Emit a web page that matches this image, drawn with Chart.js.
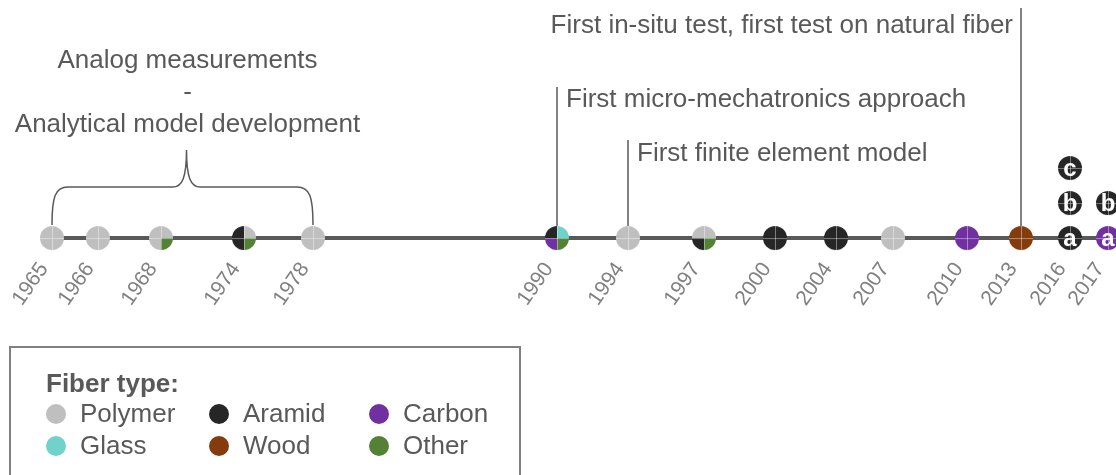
<!DOCTYPE html>
<html>
<head>
<meta charset="utf-8">
<script src="https://cdn.jsdelivr.net/npm/chart.js@4"></script>
<style>
body { margin: 0; background: #fff; }
#wrap { width: 1116px; height: 475px; }
</style>
</head>
<body>
<div id="wrap"><canvas id="timeline"></canvas></div>
<script>
// Studies along the timeline (position is the place on the drawn axis, not linear in years)
const years = ['1965', '1966', '1968', '1974', '1978', '1990', '1994', '1997', '2000', '2004', '2007', '2010', '2013', '2016', '2017'];
const timelinePos = [52, 98, 161, 244, 313, 557, 628, 704, 775, 836, 893, 967, 1021, 1070, 1108];

// Fiber type of each quarter of the marker
const topLeft     = ['Polymer', 'Polymer', 'Polymer', 'Aramid', 'Polymer', 'Aramid', 'Polymer', 'Polymer', 'Aramid', 'Aramid', 'Polymer', 'Carbon', 'Wood', 'Aramid', 'Carbon'];
const topRight    = ['Polymer', 'Polymer', 'Polymer', 'Polymer', 'Polymer', 'Glass', 'Polymer', 'Polymer', 'Aramid', 'Aramid', 'Polymer', 'Carbon', 'Wood', 'Aramid', 'Carbon'];
const bottomLeft  = ['Polymer', 'Polymer', 'Polymer', 'Aramid', 'Polymer', 'Carbon', 'Polymer', 'Aramid', 'Aramid', 'Aramid', 'Polymer', 'Carbon', 'Wood', 'Aramid', 'Carbon'];
const bottomRight = ['Polymer', 'Polymer', 'Other', 'Other', 'Polymer', 'Other', 'Polymer', 'Other', 'Aramid', 'Aramid', 'Polymer', 'Carbon', 'Wood', 'Aramid', 'Carbon'];
const markerLetter = ['', '', '', '', '', '', '', '', '', '', '', '', '', 'a', 'a'];

// Extra studies stacked above the same year
const extraYear = ['2016', '2016', '2017'];
const extraLevel = [1, 2, 1];
const extraFiber = ['Aramid', 'Aramid', 'Aramid'];
const extraLetter = ['b', 'c', 'b'];

const milestoneYear = ['1990', '1994', '2013'];
const milestoneText = ['First micro-mechatronics approach', 'First finite element model', 'First in-situ test, first test on natural fiber'];

const braceFrom = '1965';
const braceTo = '1978';
const braceText = ['Analog measurements', '-', 'Analytical model development'];

const fiberNames = ['Polymer', 'Aramid', 'Carbon', 'Glass', 'Wood', 'Other'];
const fiberColors = ['#bfbfbf', '#262626', '#7030a0', '#70d2ca', '#843c0c', '#538135'];

const FONT = '"Liberation Sans", Arial, sans-serif';
const TEXT_COLOR = '#595959';

function fiberColor(name) {
    return fiberColors[fiberNames.indexOf(name)];
}

function makeMarker(tl, tr, bl, br, letter) {
    const c = document.createElement('canvas');
    c.width = 26;
    c.height = 26;
    const ctx = c.getContext('2d');
    const r = 12, cx = 13, cy = 13;
    const parts = [[tl, Math.PI, 1.5 * Math.PI], [tr, 1.5 * Math.PI, 2 * Math.PI], [br, 0, 0.5 * Math.PI], [bl, 0.5 * Math.PI, Math.PI]];
    parts.forEach(p => {
        ctx.beginPath();
        ctx.moveTo(cx, cy);
        ctx.arc(cx, cy, r, p[1], p[2]);
        ctx.closePath();
        ctx.fillStyle = fiberColor(p[0]);
        ctx.fill();
    });
    ctx.strokeStyle = 'rgba(255,255,255,0.4)';
    ctx.lineWidth = 1;
    ctx.beginPath();
    ctx.moveTo(cx - r, cy + 0.5);
    ctx.lineTo(cx + r, cy + 0.5);
    ctx.moveTo(cx + 0.5, cy - r);
    ctx.lineTo(cx + 0.5, cy + r);
    ctx.stroke();
    if (letter) {
        ctx.fillStyle = '#fff';
        ctx.font = 'bold 24px ' + FONT;
        ctx.textAlign = 'center';
        ctx.textBaseline = 'middle';
        ctx.fillText(letter, cx, cy + 1);
    }
    return c;
}

function posOf(year) {
    return timelinePos[years.indexOf(year)];
}

const mainMarkers = years.map((y, i) => makeMarker(topLeft[i], topRight[i], bottomLeft[i], bottomRight[i], markerLetter[i]));
const extraMarkers = extraYear.map((y, i) => makeMarker(extraFiber[i], extraFiber[i], extraFiber[i], extraFiber[i], extraLetter[i]));

const decorPlugin = {
    id: 'timelineDecor',
    beforeDatasetsDraw(chart) {
        const ctx = chart.ctx;
        const xs = chart.scales.x, ys = chart.scales.y;
        const y0 = ys.getPixelForValue(0);
        ctx.save();

        // milestone lines + captions
        const lineTop = [151, 98, 230];
        const textUp = [131, 77, 205];
        ctx.strokeStyle = TEXT_COLOR;
        ctx.lineWidth = 1.5;
        ctx.fillStyle = TEXT_COLOR;
        ctx.font = '26px ' + FONT;
        ctx.textBaseline = 'alphabetic';
        milestoneYear.forEach((yr, i) => {
            const px = xs.getPixelForValue(posOf(yr));
            ctx.beginPath();
            ctx.moveTo(px, y0 - 12);
            ctx.lineTo(px, y0 - lineTop[i]);
            ctx.stroke();
            if (i === 2) {
                ctx.textAlign = 'right';
                ctx.fillText(milestoneText[i], px - 8, y0 - textUp[i]);
            } else {
                ctx.textAlign = 'left';
                ctx.fillText(milestoneText[i], px + 9, y0 - textUp[i]);
            }
        });

        // curly brace over the early years
        const x1 = xs.getPixelForValue(posOf(braceFrom));
        const x2 = xs.getPixelForValue(posOf(braceTo));
        const xm = (x1 + x2) / 2 + 4;
        const yb = y0 - 13, yh = y0 - 51, yt = y0 - 88;
        ctx.beginPath();
        ctx.moveTo(x1, yb);
        ctx.bezierCurveTo(x1, yh + 10, x1 + 3, yh, x1 + 16, yh);
        ctx.lineTo(xm - 14, yh);
        ctx.bezierCurveTo(xm - 4, yh, xm, yh - 10, xm, yt);
        ctx.bezierCurveTo(xm, yh - 10, xm + 4, yh, xm + 14, yh);
        ctx.lineTo(x2 - 16, yh);
        ctx.bezierCurveTo(x2 - 3, yh, x2, yh + 10, x2, yb);
        ctx.stroke();
        ctx.textAlign = 'center';
        braceText.forEach((t, i) => {
            ctx.fillText(t, xm + 1, y0 - 170 + i * 32);
        });
        ctx.restore();
    },
    afterDraw(chart) {
        const ctx = chart.ctx;
        const xs = chart.scales.x, ys = chart.scales.y;
        const y0 = ys.getPixelForValue(0);
        ctx.save();

        // rotated year labels
        ctx.fillStyle = '#808080';
        ctx.font = '21px ' + FONT;
        ctx.textAlign = 'right';
        ctx.textBaseline = 'middle';
        years.forEach((yr, i) => {
            const px = xs.getPixelForValue(timelinePos[i]);
            ctx.save();
            ctx.translate(px - 8, y0 + 27);
            ctx.rotate(-55 * Math.PI / 180);
            ctx.fillText(yr, 0, 0);
            ctx.restore();
        });

        // legend box
        ctx.strokeStyle = '#808080';
        ctx.lineWidth = 2;
        ctx.strokeRect(10, 347, 510, 140);
        ctx.fillStyle = TEXT_COLOR;
        ctx.textAlign = 'left';
        ctx.font = 'bold 26px ' + FONT;
        ctx.fillText('Fiber type:', 46, 385);
        ctx.font = '26px ' + FONT;
        const colX = [56, 219, 379];
        const rowY = [414, 446];
        fiberNames.forEach((name, i) => {
            const cx = colX[i % 3], cy = rowY[Math.floor(i / 3)];
            ctx.beginPath();
            ctx.arc(cx, cy, 10, 0, Math.PI * 2);
            ctx.fillStyle = fiberColors[i];
            ctx.fill();
            ctx.fillStyle = TEXT_COLOR;
            ctx.fillText(name, cx + 24, cy + 1);
        });
        ctx.restore();
    }
};

new Chart(document.getElementById('timeline'), {
    type: 'scatter',
    data: {
        datasets: [
            {
                label: 'Studies',
                data: timelinePos.map(x => ({ x: x, y: 0 })),
                pointStyle: mainMarkers,
                pointRadius: 12,
                clip: false
            },
            {
                label: 'More studies',
                data: extraYear.map((yr, i) => ({ x: posOf(yr), y: extraLevel[i] })),
                pointStyle: extraMarkers,
                pointRadius: 12,
                clip: false
            },
            {
                type: 'line',
                label: 'Timeline',
                data: [{ x: timelinePos[0], y: 0 }, { x: 1116, y: 0 }],
                borderColor: '#595959',
                borderWidth: 4,
                pointRadius: 0
            }
        ]
    },
    options: {
        responsive: true,
        maintainAspectRatio: false,
        animation: false,
        events: [],
        layout: { padding: 0, autoPadding: false },
        scales: {
            x: { type: 'linear', min: 0, max: 1116, display: false },
            y: { min: -6.77, max: 6.8, display: false }
        },
        plugins: {
            legend: { display: false },
            tooltip: { enabled: false }
        }
    },
    plugins: [decorPlugin]
});
</script>
</body>
</html>
